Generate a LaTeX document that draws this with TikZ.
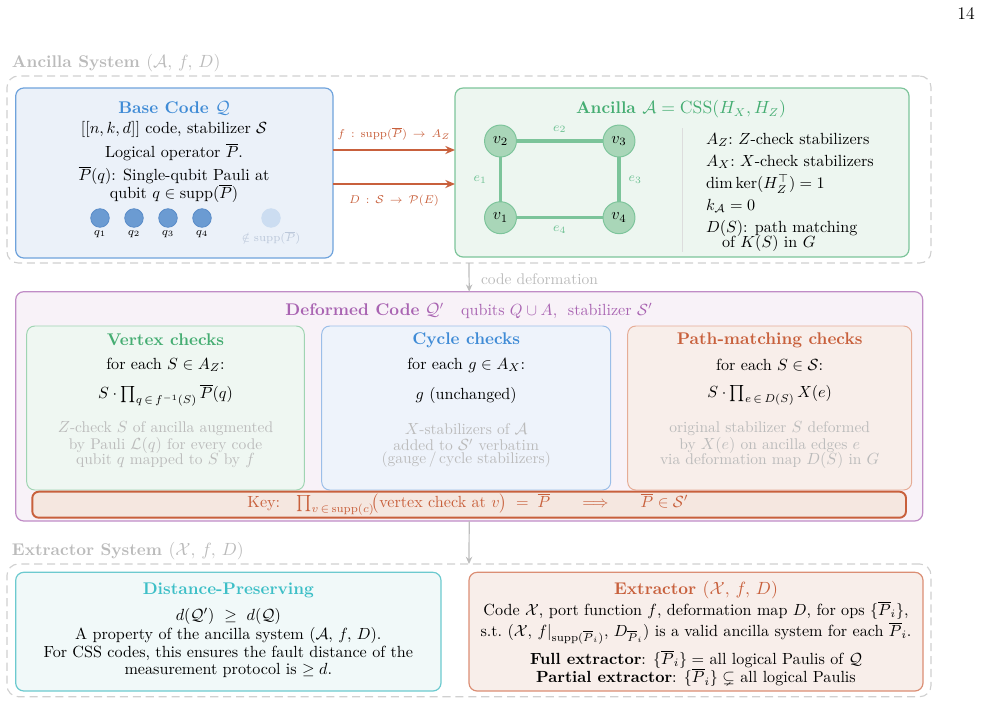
\documentclass[tikz,border=0pt]{standalone}
\usepackage{amsmath,amssymb}
\usetikzlibrary{arrows.meta,fit,positioning,calc}
\definecolor{cBlue}{HTML}{3F8BD6}
\definecolor{cBlueFill}{HTML}{EBF1F9}
\definecolor{cBlueLine}{HTML}{6FA3DC}
\definecolor{cCycFill}{HTML}{EEF3FB}
\definecolor{cCycLine}{HTML}{9BBEE8}
\definecolor{cGreen}{HTML}{45AD72}
\definecolor{cGreenFill}{HTML}{EDF6F0}
\definecolor{cGreenLine}{HTML}{7CC49A}
\definecolor{cEdgeLab}{HTML}{6FC294}
\definecolor{cVtxFill}{HTML}{EFF7F2}
\definecolor{cVtxLine}{HTML}{9FD4B2}
\definecolor{cNode}{HTML}{A9D6B8}
\definecolor{cNodeLine}{HTML}{7CC49A}
\definecolor{cRed}{HTML}{C8603C}
\definecolor{cRedFill}{HTML}{F8EEEA}
\definecolor{cRedLine}{HTML}{DB8E74}
\definecolor{cPathLine}{HTML}{E6AC96}
\definecolor{cKeyFill}{HTML}{F5E7E0}
\definecolor{cPurple}{HTML}{A964B2}
\definecolor{cPurpleFill}{HTML}{F8F2F8}
\definecolor{cPurpleLine}{HTML}{C08CC6}
\definecolor{cTeal}{HTML}{3DBFC7}
\definecolor{cTealFill}{HTML}{F1F9F9}
\definecolor{cTealLine}{HTML}{6CCACF}
\definecolor{cGreyText}{HTML}{BBBBBB}
\definecolor{cArrow}{HTML}{BDBDBD}
\definecolor{cDash}{HTML}{D0D0D0}
\definecolor{cSep}{HTML}{DDDDDD}
\definecolor{cQubit}{HTML}{6B9BD2}
\definecolor{cQubitLine}{HTML}{5A8CC8}
\definecolor{cQubitFade}{HTML}{CCDDF1}
\definecolor{cFadeText}{HTML}{BCC8DA}
\tikzset{
  every node/.style={inner sep=0pt, outer sep=0pt},
  body/.style={font=\fontsize{10}{11}\selectfont, text=black},
  note/.style={font=\fontsize{9.6}{10}\selectfont, text=cGreyText},
  ttl/.style={font=\fontsize{10.5}{12}\selectfont\bfseries},
  sml/.style={font=\fontsize{7.5}{9}\selectfont},
  panel/.style={draw, rounded corners=5pt, line width=0.75pt, inner sep=0pt},
  groupbox/.style={draw=cDash, dash pattern=on 5pt off 3pt, rounded corners=7pt, line width=0.7pt, inner sep=0pt},
  redarr/.style={draw=cRed, line width=1.2pt, -{Stealth[length=6pt,width=5pt]}},
  greyarr/.style={draw=cArrow, line width=0.75pt, -{Stealth[length=4.5pt,width=4pt]}},
  gedge/.style={draw=cGreenLine, line width=2pt},
  vert/.style={circle, draw=cNodeLine, fill=cNode, line width=0.6pt, minimum size=19.8pt, font=\fontsize{10}{11}\selectfont},
  qubit/.style={circle, draw=cQubitLine, fill=cQubit, line width=0.5pt, minimum size=11.5pt},
  elab/.style={font=\fontsize{8}{9}\selectfont, text=cEdgeLab},
}
\begin{document}
\begin{tikzpicture}[x=0.62pt, y=-0.62pt]
\useasboundingbox (0,0) rectangle (983,725);

% page number
\node[font=\fontsize{11}{12}\selectfont] (pagenum) at (966,14) {14};

% ===== Ancilla system group =====
\node[ttl, text=cGreyText, anchor=west] (lblanc) at (12,63) {Ancilla System \mdseries$(\mathcal{A},\, f,\, D)$};
\node[groupbox, fit={(7,76) (931,263)}] (grp1) {};

% Base code panel
\node[panel, draw=cBlueLine, fill=cBlueFill, fit={(15.7,88) (333,258)}] (base) {};
\node[ttl, text=cBlue] (basettl) at (174,108) {Base Code \mdseries$\mathcal{Q}$};
\node[body] (b1) at (174,129) {$[[n,k,d]]$ code, stabilizer $\mathcal{S}$};
\node[body] (b2) at (174,152) {Logical operator $\overline{P}$.};
\node[body] (b3) at (174,175) {$\overline{P}(q)$: Single-qubit Pauli at};
\node[body] (b4) at (174,193) {qubit $q\in\mathrm{supp}(\overline{P})$};
\foreach \i/\x in {1/100,2/134,3/168,4/202}{
  \node[qubit] (q\i) at (\x,218) {};
  \node[sml] (ql\i) at (\x,234) {$q_{\i}$};
}
\node[qubit, draw=cQubitFade, fill=cQubitFade] (qf) at (271,218) {};
\node[sml, text=cFadeText] (qfl) at (271,238) {$\notin\mathrm{supp}(\overline{P})$};

% Ancilla panel
\node[panel, draw=cGreenLine, fill=cGreenFill, fit={(455,88) (909,257)}] (anc) {};
\node[ttl, text=cGreen] (ancttl) at (681,109) {Ancilla \mdseries$\mathcal{A}=\mathrm{CSS}(H_X,H_Z)$};
\node[vert] (v2) at (500.5,141) {$v_2$};
\node[vert] (v3) at (619,141) {$v_3$};
\node[vert] (v1) at (500.5,217.7) {$v_1$};
\node[vert] (v4) at (619,217.7) {$v_4$};
\draw[gedge] (v2) -- node[elab, above=5pt] (e2) {$e_2$} (v3);
\draw[gedge] (v1) -- node[elab, left=8.5pt] (e1) {$e_1$} (v2);
\draw[gedge] (v4) -- node[elab, right=6pt] (e3) {$e_3$} (v3);
\draw[gedge] (v1) -- node[elab, below=5pt] (e4) {$e_4$} (v4);
\coordinate (sepT) at (682,128);
\coordinate (sepB) at (682,252);
\draw[cSep, line width=0.6pt] (sepT) -- (sepB);
\node[body, anchor=west] (a1) at (706,140) {$A_Z$:\ $Z$-check stabilizers};
\node[body, anchor=west] (a2) at (706,162) {$A_X$:\ $X$-check stabilizers};
\node[body, anchor=west] (a3) at (706,184) {$\dim\ker(H_Z^{\top})=1$};
\node[body, anchor=west] (a4) at (706,206) {$k_{\mathcal{A}}=0$};
\node[body, anchor=west] (a5) at (706,228) {$D(S)$: path matching};
\node[body, anchor=west] (a6) at (722,243) {of $K(S)$ in $G$};

% arrows base -> ancilla
\coordinate (yA) at (0,150);
\coordinate (yB) at (0,184);
\draw[redarr] (base.east |- yA) -- node[sml, text=cRed, above=6pt] (fl) {$f\,:\,\mathrm{supp}(\overline{P})\,\to\,A_Z$} (anc.west |- yA);
\draw[redarr] (base.east |- yB) -- node[sml, text=cRed, below=7pt] (dl) {$D\,:\,\mathcal{S}\,\to\,\mathcal{P}(E)$} (anc.west |- yB);

% ===== Deformed code =====
\node[panel, draw=cPurpleLine, fill=cPurpleFill, fit={(15.7,291.7) (922.7,521)}] (def) {};
\draw[greyarr] (grp1.south) -- (def.north);
\node[note, anchor=west] (cdl) at (481,279) {code deformation};
\node[text=cPurple] (defttl) at (469,311) {\fontsize{10.5}{12}\selectfont\textbf{Deformed Code} $\mathcal{Q}'$\quad\fontsize{10}{12}\selectfont qubits $Q\cup A$,\ \ stabilizer $\mathcal{S}'$};

% vertex checks
\node[panel, draw=cVtxLine, fill=cVtxFill, line width=0.6pt, fit={(26.7,326) (304.3,490)}] (vtx) {};
\node[ttl, text=cGreen] (vtxttl) at (165.5,340) {Vertex checks};
\node[body] (vt1) at (165.5,365) {for each $S\in A_Z$:};
\node[body] (vt2) at (165.5,395.5) {$S\cdot\prod_{q\,\in\,f^{-1}(S)}\overline{P}(q)$};
\node[note] (vt3) at (165.5,429) {$Z$-check $S$ of ancilla augmented};
\node[note] (vt4) at (165.5,445) {by Pauli $\mathcal{L}(q)$ for every code};
\node[note] (vt5) at (165.5,460) {qubit $q$ mapped to $S$ by $f$};

% cycle checks
\node[panel, draw=cCycLine, fill=cCycFill, line width=0.6pt, fit={(321.7,326) (610.7,490)}] (cyc) {};
\node[ttl, text=cBlue] (cycttl) at (466.2,340) {Cycle checks};
\node[body] (cy1) at (466.2,365) {for each $g\in A_X$:};
\node[body] (cy2) at (466.2,395) {$g$ (unchanged)};
\node[note] (cy3) at (466.2,429) {$X$-stabilizers of $\mathcal{A}$};
\node[note] (cy4) at (466.2,445) {added to $\mathcal{S}'$ verbatim};
\node[note] (cy5) at (466.2,460) {(gauge\,/\,cycle stabilizers)};

% path-matching checks
\node[panel, draw=cPathLine, fill=cRedFill, line width=0.6pt, fit={(627.7,326) (911.7,490)}] (pth) {};
\node[ttl, text=cRed] (pthttl) at (769.7,340) {Path-matching checks};
\node[body] (pt1) at (769.7,365) {for each $S\in\mathcal{S}$:};
\node[body] (pt2) at (769.7,395.5) {$S\cdot\prod_{e\,\in\,D(S)}X(e)$};
\node[note] (pt3) at (769.7,429) {original stabilizer $S$ deformed};
\node[note] (pt4) at (769.7,445) {by $X(e)$ on ancilla edges $e$};
\node[note] (pt5) at (769.7,460) {via deformation map $D(S)$ in $G$};

% key
\node[panel, draw=cRed, fill=cKeyFill, line width=1.2pt, rounded corners=4pt, fit={(32.3,491.7) (906,517.7)}] (key) {};
\node[body, text=cRed] (keytxt) at (468,504) {Key:\quad$\prod_{v\,\in\,\mathrm{supp}(c)}\!\bigl(\text{vertex check at }v\bigr)\;=\;\overline{P}$\qquad$\Longrightarrow$\qquad$\overline{P}\in\mathcal{S}'$};

% ===== Extractor system =====
\node[ttl, text=cGreyText, anchor=west] (lblext) at (12,551) {Extractor System \mdseries$(\mathcal{X},\, f,\, D)$};
\node[groupbox, fit={(7,564) (931,696.7)}] (grp2) {};
\draw[greyarr] (def.south) -- (grp2.north);

% distance-preserving
\node[panel, draw=cTealLine, fill=cTealFill, fit={(15.7,572.3) (441,691)}] (dst) {};
\node[ttl, text=cTeal] (dstttl) at (228.3,590) {Distance-Preserving};
\node[body] (ds1) at (228.3,616) {$d(\mathcal{Q}')\ \geq\ d(\mathcal{Q})$};
\node[body] (ds2) at (228.3,635.5) {A property of the ancilla system $(\mathcal{A},\, f,\, D)$.};
\node[body] (ds3) at (228.3,653) {For CSS codes, this ensures the fault distance of the};
\node[body] (ds4) at (228.3,670) {measurement protocol is $\geq d$.};

% extractor
\node[panel, draw=cRedLine, fill=cRedFill, fit={(469,572.3) (923,691)}] (ext) {};
\node[ttl, text=cRed] (extttl) at (696,590) {Extractor \mdseries$(\mathcal{X},\, f,\, D)$};
\node[body] (ex1) at (696,610) {Code $\mathcal{X}$, port function $f$, deformation map $D$, for ops $\{\overline{P}_i\}$,};
\node[body] (ex2) at (696,633) {s.t.\ $(\mathcal{X},\, f|_{\mathrm{supp}(\overline{P}_i)},\, D_{\overline{P}_i})$ is a valid ancilla system for each $\overline{P}_i$.};
\node[body] (ex3) at (696,659) {\textbf{Full extractor}: $\{\overline{P}_i\}=$ all logical Paulis of $\mathcal{Q}$};
\node[body] (ex4) at (696,677.7) {\textbf{Partial extractor}: $\{\overline{P}_i\}\subsetneq$ all logical Paulis};
\end{tikzpicture}
\end{document}
